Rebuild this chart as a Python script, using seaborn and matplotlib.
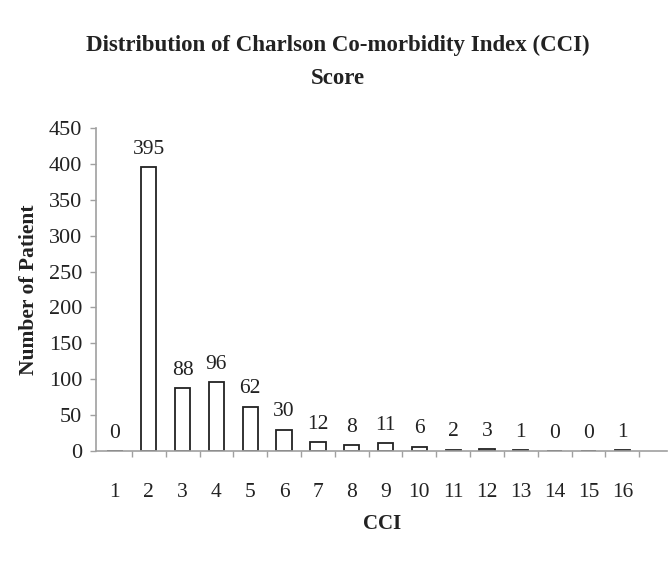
import matplotlib
matplotlib.use("Agg")
import matplotlib.pyplot as plt
import seaborn as sns
import pandas as pd
import numpy as np

cci = [str(i) for i in range(1, 17)]
patients = [0, 395, 88, 96, 62, 30, 12, 8, 11, 6, 2, 3, 1, 0, 0, 1]
yticks = [0, 50, 100, 150, 200, 250, 300, 350, 400, 450]

sns.set_theme(style="white")
plt.rcParams['font.family'] = ['Liberation Serif', 'DejaVu Serif']

df = pd.DataFrame({"CCI": cci, "Patients": patients})

fig = plt.figure(figsize=(6.69, 5.61), dpi=100)
ax = fig.add_axes([0.1435, 0.196, 0.854, 0.576])
sns.barplot(data=df, x="CCI", y="Patients", order=cci, color="white",
            edgecolor="#222222", linewidth=1.3, width=0.45, ax=ax, saturation=1)

ax.bar_label(ax.containers[0], labels=[str(v) for v in patients], padding=6,
             fontsize=15.5, color="#222222")

ax.set_ylim(0, 450)
ax.set_yticks(yticks)
ax.set_xlim(-0.56, 16.33)
ax.tick_params(axis='y', labelsize=16, length=4, color="#a0a0a0", left=True,
               width=1, pad=6, labelcolor="#222222")
ax.tick_params(axis='x', which='major', labelsize=15.5, length=0, pad=23,
               labelcolor="#222222")
ax.set_xticks(np.arange(0.5, 16, 1), minor=True)
ax.tick_params(axis='x', which='minor', length=4, color="#a0a0a0", bottom=True, width=1)

for s in ["top", "right"]:
    ax.spines[s].set_visible(False)
for s in ["left", "bottom"]:
    ax.spines[s].set_color("#a0a0a0")
    ax.spines[s].set_linewidth(1.2)

ax.set_xlabel("CCI", fontsize=15, fontweight="bold", labelpad=9, color="#222222")
ax.set_ylabel("Number of Patient", fontsize=15.5, fontweight="bold", labelpad=7, color="#222222")

fig.text(0.505, 0.889, "Distribution of Charlson Co-morbidity Index (CCI)\nScore",
         ha="center", va="center", fontsize=16.5, fontweight="bold",
         color="#222222", linespacing=1.75)

fig.savefig("out.png", dpi=100, facecolor="white")
